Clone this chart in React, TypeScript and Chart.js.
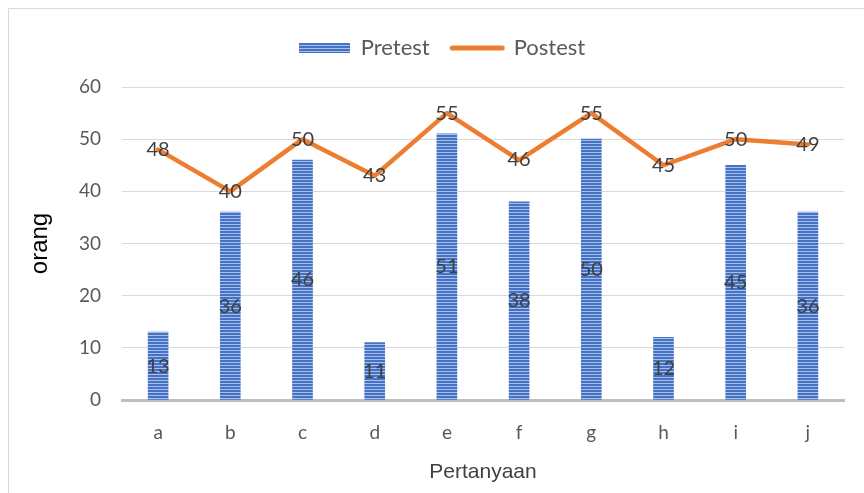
import React, { useEffect, useRef } from "react";
import { Chart, registerables } from "chart.js";

Chart.register(...registerables);

const categories = ["a", "b", "c", "d", "e", "f", "g", "h", "i", "j"];
const pretest = [13, 36, 46, 11, 51, 38, 50, 12, 45, 36];
const postest = [48, 40, 50, 43, 55, 46, 55, 45, 50, 49];
const yTicks = [0, 10, 20, 30, 40, 50, 60];

function makeStripe(): CanvasPattern | string {
  const c = document.createElement("canvas");
  c.width = 4;
  c.height = 3;
  const g = c.getContext("2d")!;
  g.fillStyle = "#4472C4";
  g.fillRect(0, 0, 4, 2);
  g.fillStyle = "#A9BEE8";
  g.fillRect(0, 2, 4, 1);
  const p = g.createPattern(c, "repeat");
  return p || "#4472C4";
}

function makeBarLegend(): HTMLCanvasElement {
  const c = document.createElement("canvas");
  c.width = 51;
  c.height = 10;
  const g = c.getContext("2d")!;
  for (let y = 0; y < 10; y++) {
    g.fillStyle = y % 3 === 2 ? "#A9BEE8" : "#4472C4";
    g.fillRect(0, y, 51, 1);
  }
  return c;
}

function makeLineLegend(): HTMLCanvasElement {
  const c = document.createElement("canvas");
  c.width = 56;
  c.height = 8;
  const g = c.getContext("2d")!;
  g.strokeStyle = "#ED7D31";
  g.lineWidth = 5;
  g.lineCap = "round";
  g.beginPath();
  g.moveTo(3, 4);
  g.lineTo(53, 4);
  g.stroke();
  return c;
}

const labelPlugin = {
  id: "valueLabels",
  beforeLayout(chart: any) {
    const lg = chart.legend;
    if (lg && !lg.__patched) {
      const orig = lg.fit;
      lg.fit = function () {
        orig.call(this);
        this.height += 18;
      };
      lg.__patched = true;
    }
  },
  afterLayout(chart: any) {
    const lg = chart.legend;
    if (lg) {
      lg.left += 10;
      lg.right += 10;
    }
  },
  afterDatasetsDraw(chart: any) {
    const ctx = chart.ctx;
    ctx.save();
    ctx.font = "20px Lato, 'Liberation Sans', sans-serif";
    ctx.fillStyle = "#404040";
    ctx.textAlign = "center";
    ctx.textBaseline = "middle";
    const yScale = chart.scales.y;
    chart.data.datasets.forEach((ds: any, di: number) => {
      const meta = chart.getDatasetMeta(di);
      meta.data.forEach((el: any, i: number) => {
        const v = ds.data[i];
        let y = el.y;
        if (ds.type === "bar") {
          y = (yScale.getPixelForValue(0) + el.y) / 2;
        }
        ctx.fillText(String(v), el.x, y);
      });
    });
    ctx.restore();
  },
  beforeDraw(chart: any) {
    const ctx = chart.ctx;
    ctx.save();
    ctx.strokeStyle = "#D9D9D9";
    ctx.lineWidth = 1;
    ctx.beginPath();
    ctx.moveTo(8.5, chart.height);
    ctx.lineTo(8.5, 8.5);
    ctx.lineTo(chart.width, 8.5);
    ctx.stroke();
    ctx.restore();
  },
};

export default function App() {
  const ref = useRef<HTMLCanvasElement>(null);
  useEffect(() => {
    document.body.style.margin = "0";
    const stripe = makeStripe();
    const barLegend = makeBarLegend();
    const lineLegend = makeLineLegend();
    const chart = new Chart(ref.current!, {
      type: "bar",
      data: {
        labels: categories,
        datasets: [
          {
            type: "bar",
            label: "Pretest",
            data: pretest,
            backgroundColor: stripe as any,
            barThickness: 20,
            order: 2,
          },
          {
            type: "line",
            label: "Postest",
            data: postest,
            borderColor: "#ED7D31",
            backgroundColor: "#ED7D31",
            borderWidth: 4.5,
            pointRadius: 0,
            tension: 0,
            borderCapStyle: "round",
            borderJoinStyle: "round",
            order: 1,
          } as any,
        ],
      },
      options: {
        animation: false,
        responsive: false,
        maintainAspectRatio: false,
        layout: { padding: { left: 20, right: 20, top: 15, bottom: 0 } },
        plugins: {
          tooltip: { enabled: false },
          legend: {
            position: "top",
            labels: {
              usePointStyle: true,
              pointStyleWidth: 51,
              padding: 22,
              color: "#595959",
              font: { family: "Lato, 'Liberation Sans', sans-serif", size: 22 },
              sort: (a: any, b: any) => a.datasetIndex - b.datasetIndex,
              generateLabels(ch: any) {
                const items = Chart.defaults.plugins.legend.labels.generateLabels(ch);
                items.forEach((it: any) => {
                  it.pointStyle = it.datasetIndex === 0 ? barLegend : lineLegend;
                  it.fontColor = "#595959";
                });
                return items;
              },
            },
          },
        },
        scales: {
          x: {
            offset: true,
            grid: { display: false },
            border: { color: "#BFBFBF", width: 3 },
            ticks: {
              color: "#595959",
              padding: 13,
              font: { family: "Lato, 'Liberation Sans', sans-serif", size: 19 },
            },
            title: {
              display: true,
              text: "Pertanyaan",
              color: "#404040",
              font: { family: "'Liberation Sans', Arial, sans-serif", size: 21 },
              padding: { top: 4, bottom: 8 },
            },
            afterFit(scale: any) {
              scale.height = 93;
            },
          },
          y: {
            min: 0,
            max: 60,
            afterBuildTicks(scale: any) {
              scale.ticks = yTicks.map((v) => ({ value: v }));
            },
            grid: { color: "#D9D9D9", drawTicks: false },
            border: { display: false },
            ticks: {
              color: "#595959",
              padding: 21,
              font: { family: "Lato, 'Liberation Sans', sans-serif", size: 19 },
            },
            title: {
              display: true,
              text: "orang",
              color: "#000000",
              font: { family: "'Liberation Sans', Arial, sans-serif", size: 24 },
              padding: { top: 6, bottom: 0 },
            },
            afterFit(scale: any) {
              scale.width = 102;
            },
          },
        },
      },
      plugins: [labelPlugin],
    } as any);
    return () => chart.destroy();
  }, []);
  return <canvas ref={ref} width={864} height={493} style={{ display: "block" }} />;
}
